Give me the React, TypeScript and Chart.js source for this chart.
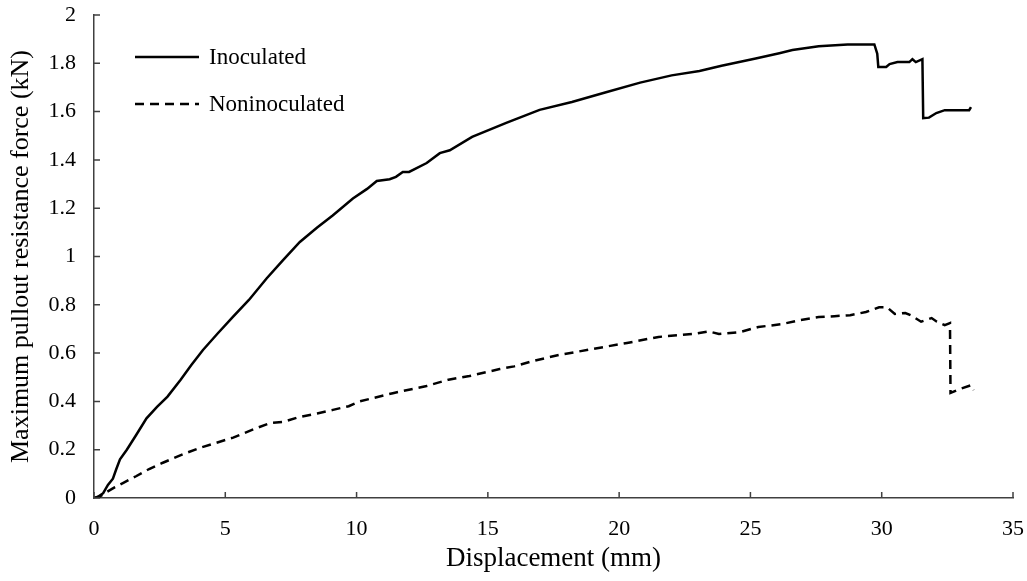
import React, { useEffect, useRef } from "react";
import { Chart, registerables } from "chart.js";

Chart.register(...registerables);

const inocX = [0, 0.15, 0.35, 0.53, 0.72, 0.85, 0.99, 1.25, 1.6, 2.0, 2.4, 2.8, 3.3, 3.7, 4.15, 4.7, 5.29, 5.9, 6.58, 7.2, 7.84, 8.5, 9.09, 9.86, 10.4, 10.77, 11.26, 11.5, 11.76, 12.0, 12.67, 13.17, 13.55, 14.4, 15.7, 16.97, 18.2, 19.5, 20.8, 22.0, 23.06, 23.9, 25.2, 26.1, 26.6, 27.6, 28.7, 29.72, 29.83, 29.87, 30.17, 30.3, 30.6, 31.05, 31.17, 31.3, 31.55, 31.58, 31.8, 32.08, 32.4, 33.33, 33.4];
const inocY = [0, 0.005, 0.02, 0.054, 0.08, 0.12, 0.16, 0.2, 0.26, 0.33, 0.377, 0.42, 0.49, 0.55, 0.613, 0.68, 0.75, 0.82, 0.91, 0.985, 1.06, 1.12, 1.17, 1.24, 1.28, 1.313, 1.32, 1.33, 1.35, 1.35, 1.387, 1.428, 1.44, 1.495, 1.553, 1.607, 1.64, 1.68, 1.72, 1.75, 1.768, 1.79, 1.82, 1.842, 1.855, 1.871, 1.878, 1.878, 1.84, 1.785, 1.785, 1.797, 1.805, 1.805, 1.817, 1.805, 1.817, 1.573, 1.575, 1.594, 1.606, 1.606, 1.619];

const nonX = [0, 0.2, 0.35, 0.49, 0.8, 1.1, 1.6, 2.1, 2.6, 3.5, 4.1, 4.7, 5.3, 6.2, 6.7, 7.2, 7.8, 8.5, 9.1, 9.7, 10.12, 11.38, 12.67, 13.5, 14.3, 15.45, 16.0, 16.7, 17.7, 18.99, 20.3, 21.5, 22.8, 23.4, 23.8, 24.6, 25.3, 26.2, 26.9, 27.6, 28.2, 28.8, 29.4, 29.9, 30.2, 30.5, 30.9, 31.1, 31.5, 31.9, 32.1, 32.4, 32.6, 32.62, 32.95, 33.4, 33.5];
const nonY = [0, 0.005, 0.015, 0.025, 0.045, 0.062, 0.09, 0.12, 0.145, 0.186, 0.21, 0.23, 0.25, 0.29, 0.31, 0.315, 0.335, 0.35, 0.365, 0.38, 0.4, 0.434, 0.464, 0.49, 0.505, 0.534, 0.545, 0.567, 0.592, 0.617, 0.642, 0.667, 0.679, 0.69, 0.679, 0.687, 0.708, 0.72, 0.737, 0.749, 0.753, 0.757, 0.77, 0.79, 0.79, 0.762, 0.766, 0.757, 0.73, 0.745, 0.73, 0.716, 0.724, 0.435, 0.45, 0.467, 0.447];

const seriesNames = ["Inoculated", "Noninoculated"];
const xTitle = "Displacement (mm)";
const yTitle = "Maximum pullout resistance force (kN)";

const FONT = "'Liberation Serif', 'Times New Roman', serif";
const DASH = [9, 6];

const toPoints = (xs: number[], ys: number[]) => xs.map((x, i) => ({ x, y: ys[i] }));

const innerTicks = {
  id: "innerTicks",
  afterDraw(chart: any) {
    const ctx = chart.ctx;
    const xs = chart.scales.x;
    const ys = chart.scales.y;
    ctx.save();
    ctx.strokeStyle = "#404040";
    ctx.lineWidth = 1.5;
    ctx.beginPath();
    xs.ticks.forEach((t: any) => {
      const px = xs.getPixelForValue(t.value);
      ctx.moveTo(px, xs.top);
      ctx.lineTo(px, xs.top - 6);
    });
    ys.ticks.forEach((t: any) => {
      const py = ys.getPixelForValue(t.value);
      ctx.moveTo(ys.right, py);
      ctx.lineTo(ys.right + 6, py);
    });
    ctx.stroke();
    ctx.restore();
  },
};

const insideLegend = {
  id: "insideLegend",
  afterDraw(chart: any) {
    const ctx = chart.ctx;
    const area = chart.chartArea;
    const x0 = area.left + 41;
    const rows = [area.top + 42, area.top + 89];
    ctx.save();
    ctx.strokeStyle = "#000";
    ctx.lineWidth = 2.5;
    chart.data.datasets.forEach((ds: any, i: number) => {
      ctx.setLineDash(ds.borderDash || []);
      ctx.beginPath();
      ctx.moveTo(x0, rows[i]);
      ctx.lineTo(x0 + 64, rows[i]);
      ctx.stroke();
      ctx.setLineDash([]);
      ctx.fillStyle = "#000";
      ctx.font = `23px ${FONT}`;
      ctx.textBaseline = "middle";
      ctx.textAlign = "left";
      ctx.fillText(ds.label, x0 + 74, rows[i] + 1);
    });
    ctx.restore();
  },
};

export default function App() {
  const ref = useRef<HTMLCanvasElement | null>(null);

  useEffect(() => {
    if (!ref.current) return;
    const chart = new Chart(ref.current, {
      type: "scatter",
      data: {
        datasets: [
          {
            label: seriesNames[0],
            data: toPoints(inocX, inocY),
            showLine: true,
            borderColor: "#000",
            borderWidth: 2.5,
            pointRadius: 0,
            tension: 0,
          },
          {
            label: seriesNames[1],
            data: toPoints(nonX, nonY),
            showLine: true,
            borderColor: "#000",
            borderWidth: 2.5,
            borderDash: DASH,
            pointRadius: 0,
            tension: 0,
          },
        ],
      },
      options: {
        animation: false,
        responsive: true,
        maintainAspectRatio: false,
        layout: { padding: { top: 15, right: 14, left: 0, bottom: 0 } },
        plugins: {
          legend: { display: false },
          tooltip: { enabled: false },
        },
        scales: {
          x: {
            type: "linear",
            min: 0,
            max: 35,
            ticks: {
              stepSize: 5,
              padding: 18,
              color: "#000",
              font: { family: FONT, size: 22 },
            },
            grid: { display: false, drawTicks: false },
            border: { display: true, color: "#404040", width: 1.5 },
            title: {
              display: true,
              text: xTitle,
              color: "#000",
              font: { family: FONT, size: 27 },
              padding: { top: 0, bottom: 6 },
            },
            afterFit: (s: any) => {
              s.height = 83;
              s.paddingLeft = 0;
              s.paddingRight = 0;
            },
          },
          y: {
            type: "linear",
            min: 0,
            max: 2,
            ticks: {
              stepSize: 0.2,
              padding: 18,
              color: "#000",
              font: { family: FONT, size: 22 },
              callback: (v: any) => String(Number(Number(v).toFixed(1))),
            },
            grid: { display: false, drawTicks: false },
            border: { display: true, color: "#404040", width: 1.5 },
            title: {
              display: true,
              text: yTitle,
              color: "#000",
              font: { family: FONT, size: 26 },
              padding: { top: 6, bottom: 0 },
            },
            afterFit: (s: any) => {
              s.width = 94;
              s.paddingTop = 0;
              s.paddingBottom = 0;
            },
          },
        },
      },
      plugins: [innerTicks, insideLegend],
    });
    return () => chart.destroy();
  }, []);

  return (
    <div style={{ position: "fixed", left: 0, top: 0, width: 1027, height: 581, background: "#fff" }}>
      <canvas ref={ref} />
    </div>
  );
}
